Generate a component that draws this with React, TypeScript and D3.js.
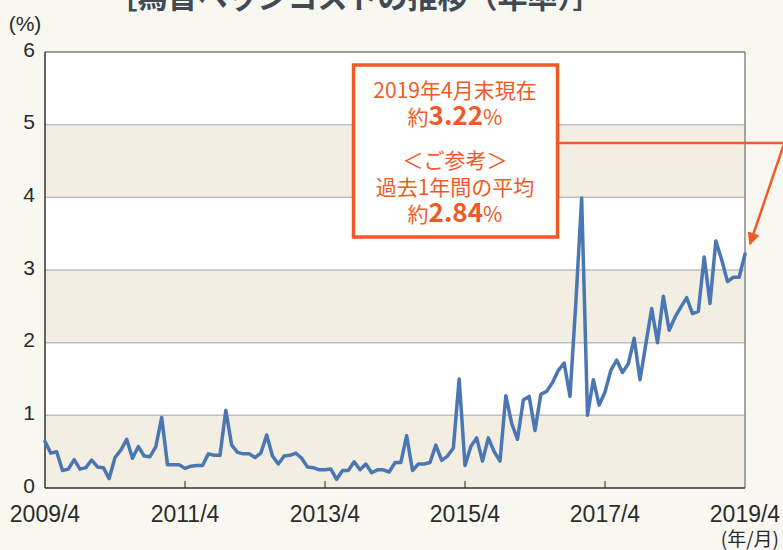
import React from 'react';
import * as d3 from 'd3';

// monthly hedge cost (%), 2009/4 .. 2019/4
const values = [
  0.64, 0.48, 0.50, 0.24, 0.26, 0.39, 0.26, 0.28, 0.385, 0.29, 0.28, 0.13,
  0.42, 0.52, 0.67, 0.41, 0.57, 0.44, 0.43, 0.57, 0.97, 0.32, 0.32, 0.32,
  0.27, 0.30, 0.31, 0.31, 0.47, 0.45, 0.45, 1.07, 0.59, 0.49, 0.47, 0.47,
  0.42, 0.48, 0.73, 0.44, 0.33, 0.44, 0.45, 0.48, 0.41, 0.29, 0.28, 0.25,
  0.25, 0.26, 0.12, 0.24, 0.24, 0.36, 0.25, 0.33, 0.21, 0.25, 0.25, 0.22,
  0.35, 0.35, 0.72, 0.24, 0.33, 0.33, 0.35, 0.59, 0.38, 0.44, 0.55, 1.50,
  0.31, 0.57, 0.69, 0.37, 0.69, 0.50, 0.37, 1.27, 0.89, 0.67, 1.21, 1.26,
  0.79, 1.29, 1.33, 1.45, 1.62, 1.72, 1.26, 2.55, 3.99, 1.00, 1.49, 1.14,
  1.32, 1.62, 1.76, 1.59, 1.71, 2.06, 1.49, 1.98, 2.47, 2.00, 2.64, 2.17,
  2.35, 2.49, 2.62, 2.40, 2.43, 3.18, 2.54, 3.40, 3.14, 2.84, 2.90, 2.90,
  3.22,
];

const xTickLabels = ['2009/4', '2011/4', '2013/4', '2015/4', '2017/4', '2019/4'];
const yTicks = [0, 1, 2, 3, 4, 5, 6];

const title = '［為替ヘッジコストの推移（年率）］';
const noteLines = ['2019年4月末現在', '＜ご参考＞', '過去1年間の平均'];
const noteValues = ['3.22', '2.84'];

const ORANGE = '#f15a24';
const BLUE = '#4a77b4';
const NUM_FONT = '"Liberation Sans", Arial, sans-serif';
const JP_FONT = '"Noto Sans CJK JP", "Liberation Sans", sans-serif';

export default function App() {
  const width = 783;
  const height = 550;
  const margin = { top: 52, right: 38, bottom: 62, left: 45 };

  // month index from "YYYY/M"
  const monthIndex = (s: string) => {
    const [y, m] = s.split('/').map(Number);
    return (y - 2009) * 12 + (m - 4);
  };

  const x = d3.scaleLinear()
    .domain([0, values.length - 1])
    .range([margin.left, width - margin.right]);

  const y = d3.scaleLinear()
    .domain([0, 6])
    .range([height - margin.bottom, margin.top]);

  const line = d3.line<number>()
    .x((_, i) => x(i))
    .y(d => y(d));

  const x0 = x.range()[0];
  const x1 = x.range()[1];

  return (
    <div style={{ position: 'absolute', left: 0, top: 0 }}>
      <svg width={width} height={height} style={{ display: 'block', background: '#f8f7f0' }}>
        {/* title, cut at the top */}
        <text x={355} y={8} textAnchor="middle" fontFamily={JP_FONT} fontWeight={700}
          fontSize={30} fill="#3f4a54">{title}</text>

        {/* bands */}
        {yTicks.slice(0, -1).map(t => (
          <rect key={t} x={x0} y={y(t + 1)} width={x1 - x0} height={y(t) - y(t + 1)}
            fill={t % 2 === 0 ? '#f2efe2' : '#ffffff'} />
        ))}

        {/* gridlines */}
        {yTicks.slice(1, -1).map(t => (
          <line key={t} x1={x0} x2={x1} y1={y(t)} y2={y(t)} stroke="#bdbdbd" strokeWidth={1.5} />
        ))}

        {/* frame */}
        <line x1={x0} x2={x1} y1={y(6)} y2={y(6)} stroke="#7a7a7a" strokeWidth={1.5} />
        <line x1={x1} x2={x1} y1={y(6)} y2={y(0)} stroke="#888" strokeWidth={1.5} />
        <line x1={x0} x2={x0} y1={y(6)} y2={y(0)} stroke="#333" strokeWidth={1.5} />

        {/* x ticks */}
        {xTickLabels.slice(1, -1).map(l => (
          <line key={l} x1={x(monthIndex(l))} x2={x(monthIndex(l))} y1={y(0)} y2={y(0) - 7}
            stroke="#666" strokeWidth={1.5} />
        ))}

        {/* series */}
        <path d={line(values) ?? ''} fill="none" stroke={BLUE} strokeWidth={3.5}
          strokeLinejoin="round" strokeLinecap="round" />

        <line x1={x0} x2={x1} y1={y(0)} y2={y(0)} stroke="#333" strokeWidth={1.5} />

        {/* y labels */}
        {yTicks.map(t => (
          <text key={t} x={35} y={y(t) - 3} textAnchor="end" dominantBaseline="central"
            fontFamily={NUM_FONT} fontSize={21} fill="#2b2b2b">{t}</text>
        ))}
        <text x={25} y={23} textAnchor="middle" dominantBaseline="central"
          fontFamily={NUM_FONT} fontSize={21} fill="#2b2b2b">(%)</text>

        {/* x labels */}
        {xTickLabels.map(l => (
          <text key={l} x={x(monthIndex(l))} y={522} textAnchor="middle"
            fontFamily={NUM_FONT} fontSize={23} fill="#2b2b2b">{l}</text>
        ))}
        <text x={779} y={546} textAnchor="end" fontFamily={JP_FONT} fontSize={19}
          fill="#2b2b2b">(年/月)</text>

        {/* annotation */}
        <line x1={558} x2={790} y1={143} y2={143} stroke={ORANGE} strokeWidth={2.5} />
        <defs>
          <marker id="arrow" viewBox="0 0 10 10" refX={9} refY={5} markerWidth={5}
            markerHeight={5} orient="auto" markerUnits="strokeWidth">
            <path d="M0,0 L10,5 L0,10 z" fill={ORANGE} />
          </marker>
        </defs>
        <line x1={786} y1={138} x2={750} y2={244} stroke={ORANGE} strokeWidth={2.5}
          markerEnd="url(#arrow)" />

        <rect x={353.5} y={65} width={204} height={172} fill="#fff" stroke={ORANGE} strokeWidth={3.5} />
        <g fill={ORANGE} fontFamily={JP_FONT} textAnchor="middle">
          <text x={455} y={98} fontSize={21}>{noteLines[0]}</text>
          <text x={455} y={125} fontSize={21}>
            約<tspan fontWeight={700} fontSize={26}>{noteValues[0]}</tspan>%
          </text>
          <text x={455} y={168} fontSize={21}>{noteLines[1]}</text>
          <text x={455} y={195} fontSize={21}>{noteLines[2]}</text>
          <text x={455} y={222} fontSize={21}>
            約<tspan fontWeight={700} fontSize={26}>{noteValues[1]}</tspan>%
          </text>
        </g>
      </svg>
    </div>
  );
}
